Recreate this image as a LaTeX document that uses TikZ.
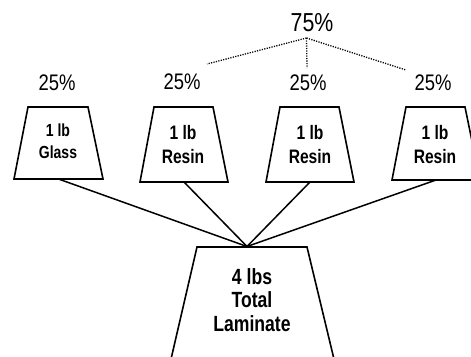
\documentclass[tikz,border=0pt]{standalone}
\usepackage{fontspec}
\setmainfont{Liberation Sans}
\newfontfamily\pctfont[FakeStretch=0.82]{Liberation Sans}
\newfontfamily\lblfont[FakeStretch=0.8]{Liberation Sans}
\begin{document}
\begin{tikzpicture}[x=1pt,y=-1pt,
  trap/.style={draw=black, line width=1.6pt, line join=miter},
  conn/.style={draw=black, line width=1.5pt},
  dots/.style={draw=black, line width=1.3pt, dash pattern=on 1.2pt off 1.3pt},
  pct/.style={inner sep=0pt, font=\pctfont\fontsize{22.5}{25}\selectfont},
  pctbig/.style={inner sep=0pt, font=\pctfont\fontsize{26}{29}\selectfont},
  smalllbl/.style={inner sep=0pt, font=\lblfont\bfseries\fontsize{17.5}{20}\selectfont},
  lbl/.style={inner sep=0pt, font=\lblfont\bfseries\fontsize{19.5}{22}\selectfont},
  biglbl/.style={inner sep=0pt, font=\lblfont\bfseries\fontsize{22}{25}\selectfont}]
\useasboundingbox (0,0) rectangle (471,356);
\clip (0,0) rectangle (471,356);

% trapezoids
\draw[trap] (14,179) -- (28,107) -- (88,107) -- (103,179) -- cycle;
\draw[trap] (140,182) -- (154,107) -- (213,107) -- (228,182) -- cycle;
\draw[trap] (266,182) -- (280,107) -- (339,107) -- (354,182) -- cycle;
\draw[trap] (392,180) -- (406,107) -- (465,107) -- (480,180) -- cycle;
\draw[trap] (170.8,360) -- (197,247) -- (307,247) -- (334.2,360);

% connector end points
\coordinate (glassb) at (58.5,179);
\coordinate (resinAb) at (184,182);
\coordinate (resinBb) at (310,182);
\coordinate (resinCb) at (436,180);
\coordinate (totalt) at (247,246.5);
\coordinate (topdot) at (306.5,38);
\coordinate (dotA) at (207,64);
\coordinate (dotB) at (307,68);
\coordinate (dotC) at (406,70);

% texts
\node[pct] (pg) at (57,83) {25\%};
\node[pct] (pa) at (182,82) {25\%};
\node[pct] (pb) at (308,83) {25\%};
\node[pct] (pc) at (433,83) {25\%};
\node[pctbig] (p75) at (312,23) {75\%};

\node[smalllbl] (g1) at (58,130) {1 lb};
\node[smalllbl] (g2) at (58,152) {Glass};
\node[lbl] (a1) at (183,133) {1 lb};
\node[lbl] (a2) at (183,157) {Resin};
\node[lbl] (b1) at (310,133) {1 lb};
\node[lbl] (b2) at (310,157) {Resin};
\node[lbl] (c1) at (435,133) {1 lb};
\node[lbl] (c2) at (435,157) {Resin};
\node[biglbl] (t1) at (252,277) {4 lbs};
\node[biglbl] (t2) at (252,300) {Total};
\node[biglbl] (t3) at (252,324) {Laminate};

% connectors
\draw[conn] (glassb) -- (totalt);
\draw[conn] (resinAb) -- (totalt);
\draw[conn] (resinBb) -- (totalt);
\draw[conn] (resinCb) -- (totalt);

% dotted lines
\draw[dots] (topdot) -- (dotA);
\draw[dots] (topdot) -- (dotB);
\draw[dots] (topdot) -- (dotC);
\end{tikzpicture}
\end{document}
